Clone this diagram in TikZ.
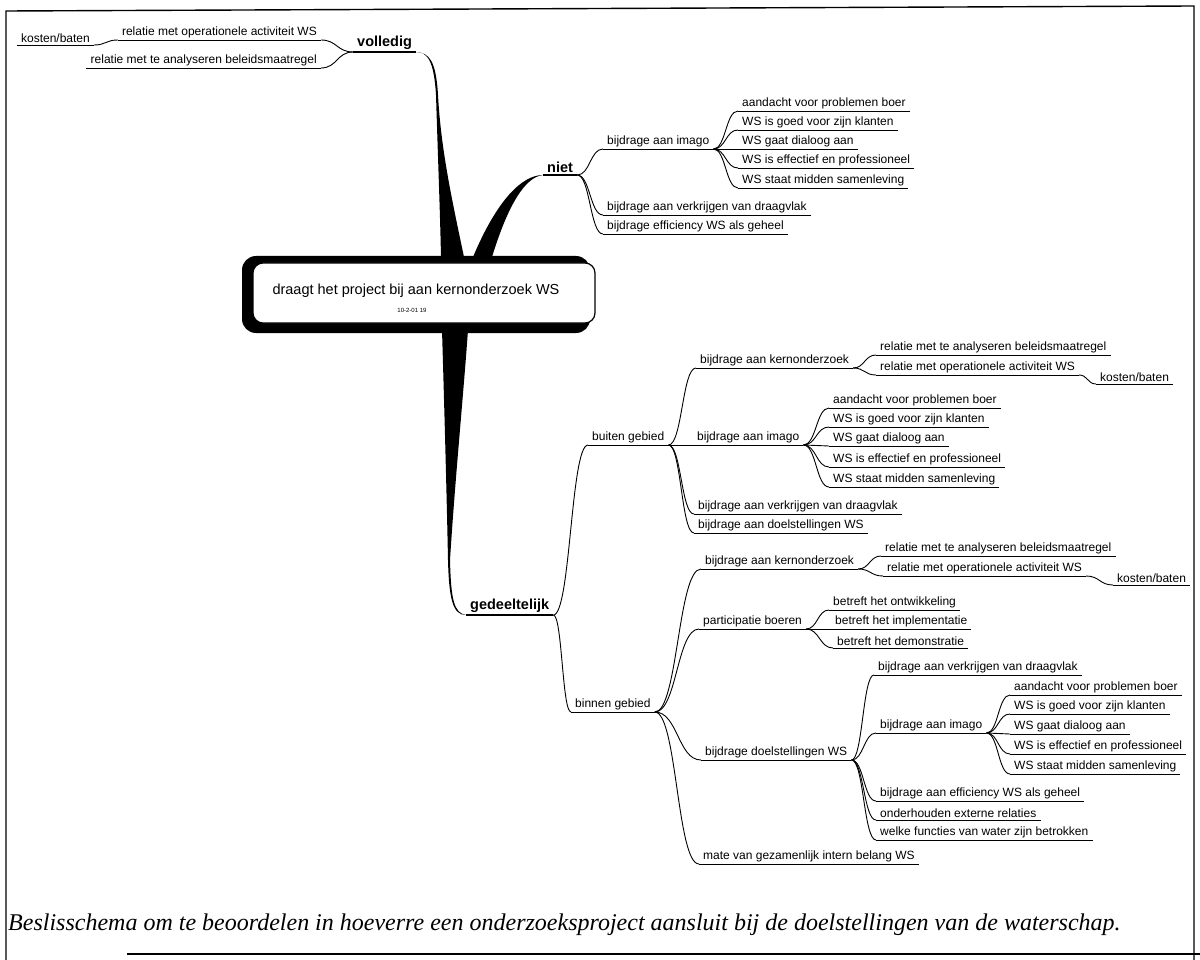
\documentclass[tikz,border=0pt]{standalone}
\usepackage{fontspec}
\setmainfont{Liberation Sans}
\newfontfamily\captionfont{Liberation Serif}
\usetikzlibrary{calc}

\begin{document}
\begin{tikzpicture}
[x=1pt,y=-1pt,
topic/.style={anchor=south west,inner xsep=4pt,inner ysep=2pt,font=\fontsize{12}{14}\selectfont,
  append after command={(\tikzlastnode.south west) edge[draw,line width=.9pt] (\tikzlastnode.south east)}},
ltopic/.style={topic,anchor=south east},
main/.style={anchor=south west,inner xsep=4pt,inner ysep=2pt,font=\fontsize{14.5}{16}\selectfont\bfseries,
  append after command={(\tikzlastnode.south west) edge[draw,line width=1.6pt] (\tikzlastnode.south east)}},
branch/.style={line width=.9pt,to path={let \p1=(\tikztostart),\p2=(\tikztotarget),\n1={0.5*\x1+0.5*\x2} in
  .. controls (\n1,\y1) and (\n1,\y2) .. (\tikztotarget)}},
rootbox/.style={draw,fill=white,line width=1.2pt,rounded corners=10pt,minimum width=342pt,minimum height=60pt},
frame/.style={line width=1.4pt}]
\useasboundingbox (0,0) rectangle (1200,960);
%%
\draw[frame] (6,960) -- (6,11) -- (1194,6) -- (1194,960);
\draw[frame] (127,954) -- (1200,954);
%%
%% volledig
\node (vol) [main] at (353,52) {volledig};
\node (volA) [ltopic] at (321,40) {relatie met operationele activiteit WS};
\node (volB) [ltopic] at (321,68) {relatie met te analyseren beleidsmaatregel};
\node (volKost) [ltopic] at (94,45) {kosten/baten};
\draw[branch] (vol.south west) to (volA.south east);
\draw[branch] (vol.south west) to (volB.south east);
\draw[branch] (volA.south west) to (volKost.south east);
%%
%% niet
\node (niet) [main] at (543,175) {niet};
\node (nImago) [topic] at (603,149) {bijdrage aan imago};
\node (nI1) [topic] at (738,111) {aandacht voor problemen boer};
\node (nI2) [topic] at (738,130) {WS is goed voor zijn klanten};
\node (nI3) [topic] at (738,149) {WS gaat dialoog aan};
\node (nI4) [topic] at (738,168) {WS is effectief en professioneel};
\node (nI5) [topic] at (738,188) {WS staat midden samenleving};
\node (nDraag) [topic] at (603,215) {bijdrage aan verkrijgen van draagvlak};
\node (nEff) [topic] at (603,234) {bijdrage efficiency WS als geheel};
\draw[branch] (niet.south east) to (nImago.south west);
\draw[branch] (niet.south east) to (nDraag.south west);
\draw[branch] (niet.south east) to (nEff.south west);
\draw[branch] (nImago.south east) to (nI1.south west);
\draw[branch] (nImago.south east) to (nI2.south west);
\draw[branch] (nImago.south east) to (nI3.south west);
\draw[branch] (nImago.south east) to (nI4.south west);
\draw[branch] (nImago.south east) to (nI5.south west);
%%
%% gedeeltelijk
\node (ged) [main] at (466,615) {gedeeltelijk};
\node (buiten) [topic] at (588,445) {buiten gebied};
\node (binnen) [topic] at (571,712) {binnen gebied};
\draw[branch] (ged.south east) to (buiten.south west);
\draw[branch] (ged.south east) to (binnen.south west);
%%
%% buiten gebied
\node (bKern) [topic] at (696,368) {bijdrage aan kernonderzoek};
\node (bK1) [topic] at (876,355) {relatie met te analyseren beleidsmaatregel};
\node (bK2) [topic] at (876,375) {relatie met operationele activiteit WS};
\node (bKost) [topic] at (1096,384) {kosten/baten};
\node (bImago) [topic] at (693,445) {bijdrage aan imago};
\node (bI1) [topic] at (829,408) {aandacht voor problemen boer};
\node (bI2) [topic] at (829,427) {WS is goed voor zijn klanten};
\node (bI3) [topic] at (829,446) {WS gaat dialoog aan};
\node (bI4) [topic] at (829,467) {WS is effectief en professioneel};
\node (bI5) [topic] at (829,487) {WS staat midden samenleving};
\node (bDraag) [topic] at (694,514) {bijdrage aan verkrijgen van draagvlak};
\node (bDoel) [topic] at (694,533) {bijdrage aan doelstellingen WS};
\draw[branch] (buiten.south east) to (bKern.south west);
\draw[branch] (buiten.south east) to (bImago.south west);
\draw[branch] (buiten.south east) to (bDraag.south west);
\draw[branch] (buiten.south east) to (bDoel.south west);
\draw[branch] (bKern.south east) to (bK1.south west);
\draw[branch] (bKern.south east) to (bK2.south west);
\draw[branch] (bK2.south east) to (bKost.south west);
\draw[branch] (bImago.south east) to (bI1.south west);
\draw[branch] (bImago.south east) to (bI2.south west);
\draw[branch] (bImago.south east) to (bI3.south west);
\draw[branch] (bImago.south east) to (bI4.south west);
\draw[branch] (bImago.south east) to (bI5.south west);
%%
%% binnen gebied
\node (iKern) [topic] at (701,569) {bijdrage aan kernonderzoek};
\node (iK1) [topic] at (881,556) {relatie met te analyseren beleidsmaatregel};
\node (iK2) [topic] at (883,576) {relatie met operationele activiteit WS};
\node (iKost) [topic] at (1113,585) {kosten/baten};
\node (iPart) [topic] at (699,629) {participatie boeren};
\node (iP1) [topic] at (829,610) {betreft het ontwikkeling};
\node (iP2) [topic] at (831,629) {betreft het implementatie};
\node (iP3) [topic] at (833,648) {betreft het demonstratie};
\node (iDoel) [topic] at (701,760) {bijdrage doelstellingen WS};
\node (iD1) [topic] at (874,675) {bijdrage aan verkrijgen van draagvlak};
\node (iImago) [topic] at (876,733) {bijdrage aan imago};
\node (iI1) [topic] at (1010,695) {aandacht voor problemen boer};
\node (iI2) [topic] at (1010,714) {WS is goed voor zijn klanten};
\node (iI3) [topic] at (1010,734) {WS gaat dialoog aan};
\node (iI4) [topic] at (1010,754) {WS is effectief en professioneel};
\node (iI5) [topic] at (1010,774) {WS staat midden samenleving};
\node (iD2) [topic] at (876,801) {bijdrage aan efficiency WS als geheel};
\node (iD3) [topic] at (876,820) {onderhouden externe relaties};
\node (iD4) [topic] at (876,840) {welke functies van water zijn betrokken};
\node (iMate) [topic] at (699,864) {mate van gezamenlijk intern belang WS};
\draw[branch] (binnen.south east) to (iKern.south west);
\draw[branch] (binnen.south east) to (iPart.south west);
\draw[branch] (binnen.south east) to (iDoel.south west);
\draw[branch] (binnen.south east) to (iMate.south west);
\draw[branch] (iKern.south east) to (iK1.south west);
\draw[branch] (iKern.south east) to (iK2.south west);
\draw[branch] (iK2.south east) to (iKost.south west);
\draw[branch] (iPart.south east) to (iP1.south west);
\draw[branch] (iPart.south east) to (iP2.south west);
\draw[branch] (iPart.south east) to (iP3.south west);
\draw[branch] (iDoel.south east) to (iD1.south west);
\draw[branch] (iDoel.south east) to (iImago.south west);
\draw[branch] (iDoel.south east) to (iD2.south west);
\draw[branch] (iDoel.south east) to (iD3.south west);
\draw[branch] (iDoel.south east) to (iD4.south west);
\draw[branch] (iImago.south east) to (iI1.south west);
\draw[branch] (iImago.south east) to (iI2.south west);
\draw[branch] (iImago.south east) to (iI3.south west);
\draw[branch] (iImago.south east) to (iI4.south west);
\draw[branch] (iImago.south east) to (iI5.south west);
%%
%% tapered arms of the central topic
\coordinate (vbl) at (441,257);
\coordinate (vbr) at (464,257);
\coordinate (nbl) at (473,257);
\coordinate (nbr) at (492,257);
\coordinate (gbl) at (442,330);
\coordinate (gbr) at (468,330);
\fill (vol.south east) .. controls (428,52) and (434,62) .. (436,95)
  .. controls (438,160) and (440,210) .. (vbl) -- (vbr)
  .. controls (452,200) and (441,150) .. (438,95)
  .. controls (436,60) and (429,53) .. (vol.south east) -- cycle;
\fill (niet.south west) .. controls (522,175) and (497,200) .. (nbl) -- (nbr)
  .. controls (508,205) and (525,177) .. (niet.south west) -- cycle;
\fill (gbl) .. controls (445,430) and (447,510) .. (448,560)
  .. controls (449,600) and (453,615) .. (ged.south west)
  .. controls (454,613) and (451,600) .. (450,560)
  .. controls (455,480) and (463,400) .. (gbr) -- cycle;
%%
%% central topic
\fill[rounded corners=14pt] (242,256) rectangle (590,333);
\node (root) [rootbox] at (424,293) {};
\node (roottext) [font=\fontsize{14.5}{16}\selectfont] at (416,291) {draagt het project bij aan kernonderzoek WS};
\node (rootdate) [font=\fontsize{6}{7}\selectfont] at (412,310) {10-2-01 19};
%%
\node (caption) [anchor=west,inner sep=0pt,font=\captionfont\itshape\fontsize{24}{28}\selectfont] at (8,925)
  {Beslisschema om te beoordelen in hoeverre een onderzoeksproject aansluit bij de doelstellingen van de waterschap.};
\end{tikzpicture}
\end{document}
